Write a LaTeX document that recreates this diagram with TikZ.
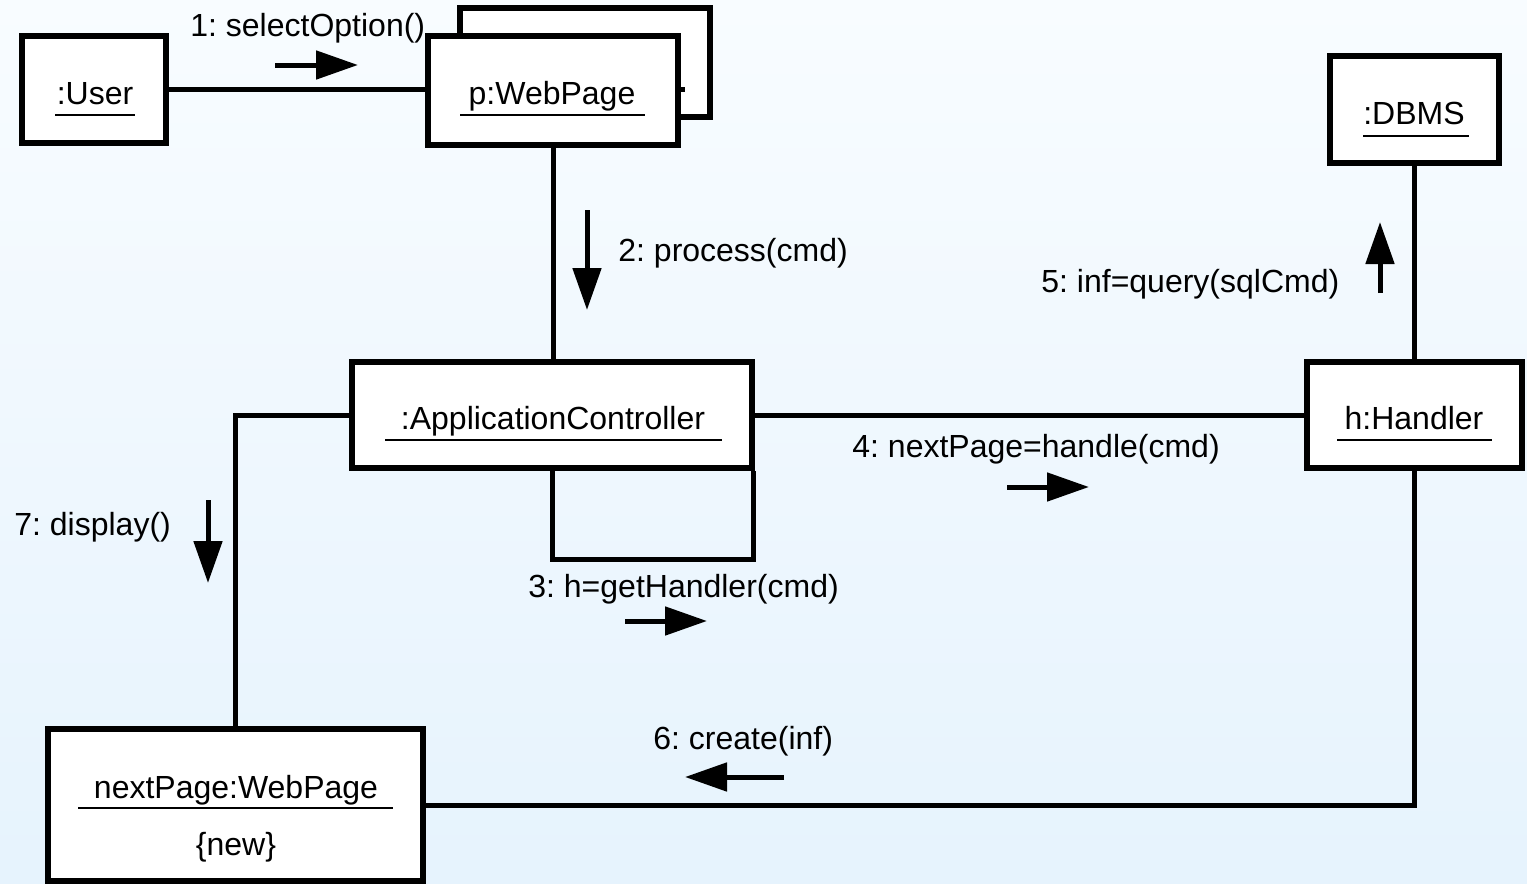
\documentclass[tikz,border=0pt]{standalone}
\usepackage{fontspec}
\setmainfont{Liberation Sans}
\usetikzlibrary{arrows.meta,calc}
\definecolor{bgtop}{HTML}{F8FCFF}
\definecolor{bgbot}{HTML}{E6F3FD}
\frenchspacing
\begin{document}
\begin{tikzpicture}[x=0.5pt,y=-0.5pt,
 obj/.style={draw,fill=white,line width=3pt,inner sep=0pt,rectangle},
 conn/.style={line width=2.5pt},
 msg/.style={line width=2.5pt,-{Triangle[length=21pt,width=14pt]}},
 uline/.style={line width=1pt},
 txt/.style={inner sep=0pt,font=\fontsize{16}{19}\selectfont},
]
\useasboundingbox (0,0) rectangle (1527,884);
\shade[top color=bgtop,bottom color=bgbot] (0,0) rectangle (1527,884);

% multi-object shadow
\node[obj,minimum width=125pt,minimum height=54.5pt] (wpback) at (585,62.5) {};
\coordinate (stub) at (685,88);
\node[obj,minimum width=72pt,minimum height=53.5pt] (user) at (94,89.5) {};
\draw[conn] (user.east) -- (user.east -| stub);
\node[obj,minimum width=125pt,minimum height=54.5pt] (wp) at (553,90.5) {};
\node[obj,minimum width=200pt,minimum height=53pt] (ac) at (552,415) {};
\node[obj,minimum width=107.5pt,minimum height=53pt] (h) at (1414.5,415) {};
\node[obj,minimum width=84.5pt,minimum height=53.5pt] (db) at (1414.5,109.5) {};
\node[obj,minimum width=187.5pt,minimum height=76pt] (np) at (235.5,805) {};

% connectors
\draw[conn] (wp.south) -- (wp.south |- ac.north);
\draw[conn] (ac.south) |- ($(ac.south east)+(-1.5,88)$) -- ($(ac.south east)+(-1.5,0)$);
\draw[conn] (ac.east) -- (h.west);
\draw[conn] (h.north) -- (db.south);
\draw[conn] (h.south) |- (np.east);
\draw[conn] (ac.west) -| (np.north);

% object names
\node[txt,anchor=base] (userT) at (95,104) {:User};
\draw[uline] (55,115) -- (135,115);
\node[txt,anchor=base] (wpT) at (552,104) {p:WebPage};
\draw[uline] (460,115) -- (645,115);
\node[txt,anchor=base] (acT) at (553,429) {:ApplicationController};
\draw[uline] (385,440) -- (722,440);
\node[txt,anchor=base] (hT) at (1414,429) {h:Handler};
\draw[uline] (1337,440) -- (1492,440);
\node[txt,anchor=base] (dbT) at (1414,124) {:DBMS};
\draw[uline] (1363,136) -- (1469,136);
\node[txt,anchor=base] (npT) at (236,798) {nextPage:WebPage};
\draw[uline] (78,808) -- (393,808);
\node[txt,anchor=base] (npN) at (236,855) {\{new\}};

% message labels
\node[txt,anchor=base west] (m1) at (190,36) {1: selectOption()};
\node[txt,anchor=base west] (m2) at (618,261) {2: process(cmd)};
\node[txt,anchor=base west] (m3) at (528,597) {3: h=getHandler(cmd)};
\node[txt,anchor=base west] (m4) at (852,457) {4: nextPage=handle(cmd)};
\node[txt,anchor=base west] (m5) at (1041,292) {5: inf=query(sqlCmd)};
\node[txt,anchor=base west] (m6) at (653,749) {6: create(inf)};
\node[txt,anchor=base west] (m7) at (14,535) {7: display()};

% message arrows
\coordinate (a1s) at (275,65); \coordinate (a1e) at (358,65);
\coordinate (a2s) at (587,210); \coordinate (a2e) at (587,310);
\coordinate (a3s) at (625,621); \coordinate (a3e) at (707,621);
\coordinate (a4s) at (1007,487); \coordinate (a4e) at (1089,487);
\coordinate (a5s) at (1380,293); \coordinate (a5e) at (1380,222);
\coordinate (a6s) at (784,777); \coordinate (a6e) at (685,777);
\coordinate (a7s) at (208,500); \coordinate (a7e) at (208,583);
\draw[msg] (a1s) -- (a1e);
\draw[msg] (a2s) -- (a2e);
\draw[msg] (a3s) -- (a3e);
\draw[msg] (a4s) -- (a4e);
\draw[msg] (a5s) -- (a5e);
\draw[msg] (a6s) -- (a6e);
\draw[msg] (a7s) -- (a7e);
\end{tikzpicture}
\end{document}
